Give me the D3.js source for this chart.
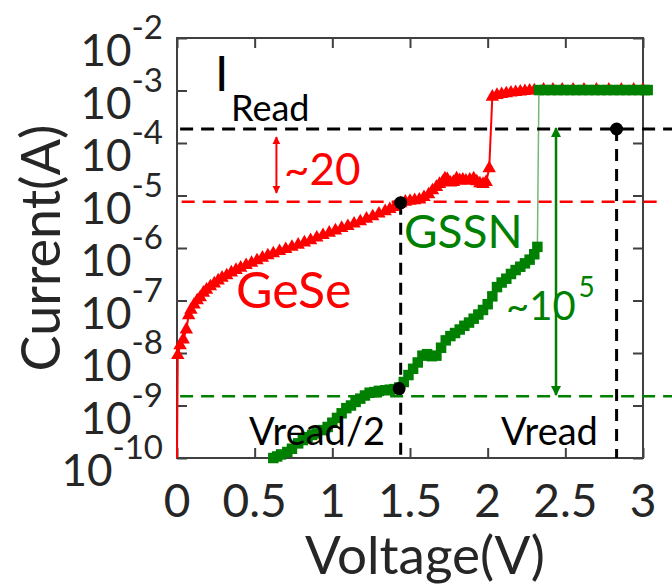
<!DOCTYPE html>
<html>
<head>
<meta charset="utf-8">
<script src="https://cdn.jsdelivr.net/npm/d3@7"></script>
<style>
  body { margin: 0; background: #fff; }
  svg { display: block; font-family: Lato, sans-serif; }
</style>
</head>
<body>
<script>
// GeSe sweep (red, triangles)
const geseV = [0, 0.005, 0.02, 0.04, 0.06, 0.075, 0.09, 0.11, 0.13, 0.15, 0.17, 0.19, 0.215, 0.24, 0.265, 0.29,
  0.32, 0.35, 0.38, 0.41, 0.445, 0.48, 0.515, 0.55, 0.585, 0.62, 0.66, 0.70, 0.74, 0.78, 0.82, 0.86,
  0.90, 0.94, 0.98, 1.02, 1.06, 1.10, 1.14, 1.18, 1.22, 1.26, 1.30, 1.34, 1.37, 1.40, 1.42, 1.44,
  1.47, 1.50, 1.53, 1.56, 1.59, 1.62, 1.645, 1.67, 1.69, 1.71, 1.725, 1.74, 1.76, 1.78, 1.80, 1.82,
  1.84, 1.86, 1.885, 1.91, 1.93, 1.95, 1.97, 1.99, 2.01, 2.03, 2.06, 2.09, 2.12, 2.15, 2.18, 2.21,
  2.24, 2.27, 2.30, 2.36, 2.42, 2.48, 2.55, 2.62, 2.70, 2.78, 2.86, 2.94, 3.0];
const geseI = [1e-10, 9.1e-9, 1.4e-8, 1.8e-8, 2.8e-8, 5.2e-8, 6.6e-8, 8.3e-8, 1.0e-7, 1.15e-7, 1.4e-7, 1.6e-7, 1.85e-7, 2.1e-7, 2.4e-7, 2.7e-7,
  3.0e-7, 3.4e-7, 3.8e-7, 4.2e-7, 4.7e-7, 5.2e-7, 5.8e-7, 6.5e-7, 7.2e-7, 7.9e-7, 8.7e-7, 9.5e-7, 1.05e-6, 1.15e-6, 1.27e-6, 1.4e-6,
  1.57e-6, 1.75e-6, 1.95e-6, 2.15e-6, 2.4e-6, 2.6e-6, 2.9e-6, 3.2e-6, 3.6e-6, 4.0e-6, 4.5e-6, 5.0e-6, 5.5e-6, 6.0e-6, 6.6e-6, 7.1e-6,
  7.6e-6, 7.9e-6, 8.1e-6, 8.3e-6, 9.3e-6, 1.05e-5, 1.25e-5, 1.45e-5, 1.65e-5, 1.8e-5, 2.1e-5, 2.05e-5, 1.75e-5, 1.8e-5, 2.1e-5, 1.95e-5,
  2.0e-5, 1.9e-5, 2.0e-5, 2.1e-5, 1.85e-5, 1.7e-5, 1.65e-5, 1.8e-5, 3.3e-5, 7.6e-4, 8.2e-4, 8.5e-4, 8.8e-4, 9.1e-4, 9.3e-4, 9.5e-4,
  9.7e-4, 9.9e-4, 1.0e-3, 1.03e-3, 1.03e-3, 1.03e-3, 1.03e-3, 1.03e-3, 1.03e-3, 1.03e-3, 1.03e-3, 1.03e-3, 1.03e-3];

// GSSN sweep (green, squares)
const gssnV = [0.62, 0.645, 0.67, 0.71, 0.74, 0.78, 0.81, 0.84, 0.87, 0.90, 0.94, 0.97, 1.00, 1.03, 1.06, 1.09,
  1.12, 1.15, 1.18, 1.21, 1.24, 1.27, 1.30, 1.34, 1.37, 1.40, 1.43, 1.46, 1.49, 1.52, 1.55, 1.58,
  1.61, 1.64, 1.67, 1.70, 1.73, 1.76, 1.79, 1.82, 1.85, 1.88, 1.91, 1.94, 1.97, 2.00, 2.03, 2.06,
  2.09, 2.12, 2.15, 2.18, 2.21, 2.24, 2.27, 2.30, 2.32, 2.33, 2.37, 2.41, 2.45, 2.49, 2.53, 2.57,
  2.61, 2.65, 2.69, 2.73, 2.77, 2.81, 2.85, 2.89, 2.93, 2.97, 3.01, 3.03];
const gssnI = [1.0e-10, 1.07e-10, 1.17e-10, 1.3e-10, 1.5e-10, 1.9e-10, 2.2e-10, 2.5e-10, 2.75e-10, 2.95e-10, 3.4e-10, 3.9e-10, 4.7e-10, 5.8e-10, 7.1e-10, 8.9e-10,
  1.0e-9, 1.17e-9, 1.35e-9, 1.55e-9, 1.75e-9, 1.8e-9, 1.9e-9, 1.95e-9, 2.0e-9, 2.05e-9, 2.2e-9, 2.8e-9, 3.8e-9, 5.0e-9, 6.6e-9, 8.9e-9,
  9.5e-9, 8.7e-9, 8.9e-9, 1.26e-8, 1.74e-8, 2.1e-8, 2.4e-8, 2.8e-8, 3.3e-8, 3.8e-8, 4.5e-8, 5.4e-8, 6.6e-8, 8.5e-8, 1.2e-7, 1.8e-7,
  2.2e-7, 2.6e-7, 3.2e-7, 3.8e-7, 4.4e-7, 5.1e-7, 6.0e-7, 7.6e-7, 1.05e-6, 1.02e-3, 1.02e-3, 1.02e-3, 1.02e-3, 1.02e-3, 1.02e-3, 1.02e-3,
  1.02e-3, 1.02e-3, 1.02e-3, 1.02e-3, 1.02e-3, 1.02e-3, 1.02e-3, 1.02e-3, 1.02e-3, 1.02e-3, 1.02e-3, 1.02e-3];

const xTicks = [0, 0.5, 1, 1.5, 2, 2.5, 3];
const xTickLabels = ['0', '0.5', '1', '1.5', '2', '2.5', '3'];
const yExponents = [-2, -3, -4, -5, -6, -7, -8, -9, -10];

// read current levels: I_Read (black), GeSe at Vread/2 (red), GSSN at Vread/2 (green)
const readLevels = [1.85e-4, 7.6e-6, 1.5e-9];
// read points (black dots)
const dotV = [1.44, 1.43, 2.83];
const dotI = [7.3e-6, 2.1e-9, 1.85e-4];
// ratio arrows: [V, I top, I bottom]
const arrowRed = [0.64, 1.3e-4, 1.12e-5];
const arrowGreen = [2.44, 1.93e-4, 1.58e-9];

const W = 672, H = 584;
const margin = { top: 38, right: 29, bottom: 126, left: 177 };
const width = W - margin.left - margin.right;
const height = H - margin.top - margin.bottom;

const svg = d3.select('body').append('svg')
    .attr('width', W)
    .attr('height', H);

const defs = svg.append('defs');
[['arrRed', '#ff0000'], ['arrGreen', '#008000']].forEach(([id, c]) => {
  defs.append('marker')
      .attr('id', id)
      .attr('viewBox', '0 0 10 10')
      .attr('refX', 9).attr('refY', 5)
      .attr('markerWidth', 4).attr('markerHeight', 4)
      .attr('markerUnits', 'strokeWidth')
      .attr('orient', 'auto-start-reverse')
      .append('path')
      .attr('d', 'M0,0L10,5L0,10Z')
      .attr('fill', c);
});

const g = svg.append('g')
    .attr('transform', `translate(${margin.left},${margin.top})`);

const x = d3.scaleLinear().domain([0, 3]).range([0, width]);
const y = d3.scaleLog().domain([1e-10, 1e-2]).range([height, 0]);

// inward ticks on all four sides
const axisColor = '#404040';
const tickLen = 10;
const axes = [
  d3.axisBottom(x).tickValues(xTicks),
  d3.axisTop(x).tickValues(xTicks),
  d3.axisLeft(y).tickValues(yExponents.map(e => Math.pow(10, e))),
  d3.axisRight(y).tickValues(yExponents.map(e => Math.pow(10, e)))
];
const shifts = [`translate(0,${height})`, 'translate(0,0)', 'translate(0,0)', `translate(${width},0)`];
axes.forEach((ax, i) => {
  g.append('g')
      .attr('transform', shifts[i])
      .call(ax.tickSizeInner(-tickLen).tickSizeOuter(0).tickFormat(''))
      .call(a => a.select('.domain').remove())
      .call(a => a.selectAll('line').attr('stroke', axisColor).attr('stroke-width', 2));
});

g.append('rect')
    .attr('width', width)
    .attr('height', height)
    .attr('fill', 'none')
    .attr('stroke', axisColor)
    .attr('stroke-width', 2);

// tick labels
g.selectAll('.xlab')
  .data(xTicks)
  .join('text')
    .attr('x', d => x(d))
    .attr('y', height + 59)
    .attr('text-anchor', 'middle')
    .attr('font-size', 46)
    .attr('fill', '#262626')
    .text((d, i) => xTickLabels[i]);

const ylab = g.selectAll('.ylab')
  .data(yExponents)
  .join('text')
    .attr('x', -14)
    .attr('y', d => y(Math.pow(10, d)) + 28)
    .attr('text-anchor', 'end')
    .attr('fill', '#262626');
ylab.append('tspan').attr('font-size', 44).text('10');
ylab.append('tspan').attr('font-size', 33).attr('dy', -27).text(d => '-' + Math.abs(d));

// axis titles
svg.append('text')
    .attr('x', 425)
    .attr('y', 574)
    .attr('text-anchor', 'middle')
    .attr('font-size', 53)
    .attr('fill', '#262626')
    .text('Voltage(V)');

svg.append('text')
    .attr('transform', 'translate(60,248) rotate(-90)')
    .attr('text-anchor', 'middle')
    .attr('font-size', 54)
    .attr('fill', '#262626')
    .text('Current(A)');

// curves
const line = d3.line().x(d => x(d[0])).y(d => y(d[1]));
const gese = geseV.map((v, i) => [v, geseI[i]]);
const gssn = gssnV.map((v, i) => [v, gssnI[i]]);

g.append('path')
    .attr('d', line(gese))
    .attr('fill', 'none')
    .attr('stroke', '#ff0000')
    .attr('stroke-width', 2);
g.selectAll('.tri')
  .data(gese.slice(1))
  .join('path')
    .attr('transform', d => `translate(${x(d[0])},${y(d[1])})`)
    .attr('d', d3.symbol(d3.symbolTriangle, 78))
    .attr('fill', '#ff0000');

g.append('path')
    .attr('d', line(gssn))
    .attr('fill', 'none')
    .attr('stroke', '#008000')
    .attr('stroke-opacity', 0.55)
    .attr('stroke-width', 1.5);
g.selectAll('.sq')
  .data(gssn)
  .join('path')
    .attr('transform', d => `translate(${x(d[0])},${y(d[1])})`)
    .attr('d', d3.symbol(d3.symbolSquare, 110))
    .attr('fill', '#008000');

// dashed read levels
const levelColors = ['#000000', '#ff0000', '#008000'];
const levelStart = [0.02, 0.03, 0.02];
const levelEnd = [3.2, 3.1, 3.2];
g.selectAll('.lvl')
  .data(readLevels)
  .join('line')
    .attr('x1', (d, i) => x(levelStart[i]))
    .attr('x2', (d, i) => x(levelEnd[i]))
    .attr('y1', d => y(d))
    .attr('y2', d => y(d))
    .attr('stroke', (d, i) => levelColors[i])
    .attr('stroke-width', (d, i) => i === 0 ? 3 : 2.5)
    .attr('stroke-dasharray', '13,8');

// vertical dashed lines from read points down to the axis
g.selectAll('.vline')
  .data([[dotV[0], dotI[0]], [dotV[2], dotI[2]]])
  .join('line')
    .attr('x1', d => x(d[0]))
    .attr('x2', d => x(d[0]))
    .attr('y1', d => y(d[1]))
    .attr('y2', height)
    .attr('stroke', '#000')
    .attr('stroke-width', 3)
    .attr('stroke-dasharray', '12,8');

g.selectAll('.dot')
  .data(dotV)
  .join('circle')
    .attr('cx', d => x(d))
    .attr('cy', (d, i) => y(dotI[i]))
    .attr('r', 6.5)
    .attr('fill', '#000');

// ratio arrows
[[arrowRed, '#ff0000', 'arrRed', 2], [arrowGreen, '#008000', 'arrGreen', 2.5]].forEach(([a, c, id, sw]) => {
  g.append('line')
      .attr('x1', x(a[0])).attr('x2', x(a[0]))
      .attr('y1', y(a[1])).attr('y2', y(a[2]))
      .attr('stroke', c)
      .attr('stroke-width', sw)
      .attr('marker-start', `url(#${id})`)
      .attr('marker-end', `url(#${id})`);
});

// annotations
const ann = svg.append('g');
ann.append('text').attr('x', 215).attr('y', 91).attr('font-size', 48).text('I');
ann.append('text').attr('x', 231).attr('y', 121).attr('font-size', 36).text('Read');
ann.append('text').attr('x', 284).attr('y', 185).attr('font-size', 44).attr('fill', '#ff0000').text('~20');
ann.append('text').attr('x', 236).attr('y', 308).attr('font-size', 50).attr('fill', '#ff0000').text('GeSe');
ann.append('text').attr('x', 404).attr('y', 248).attr('font-size', 46).attr('fill', '#008000').text('GSSN');
const t5 = ann.append('text').attr('x', 506).attr('y', 320).attr('fill', '#008000');
t5.append('tspan').attr('font-size', 40).text('~10');
t5.append('tspan').attr('font-size', 28).attr('dy', -23).attr('dx', 3).text('5');
ann.append('text').attr('x', 249).attr('y', 445).attr('font-size', 38).text('Vread/2');
ann.append('text').attr('x', 501).attr('y', 445).attr('font-size', 38).text('Vread');
</script>
</body>
</html>
